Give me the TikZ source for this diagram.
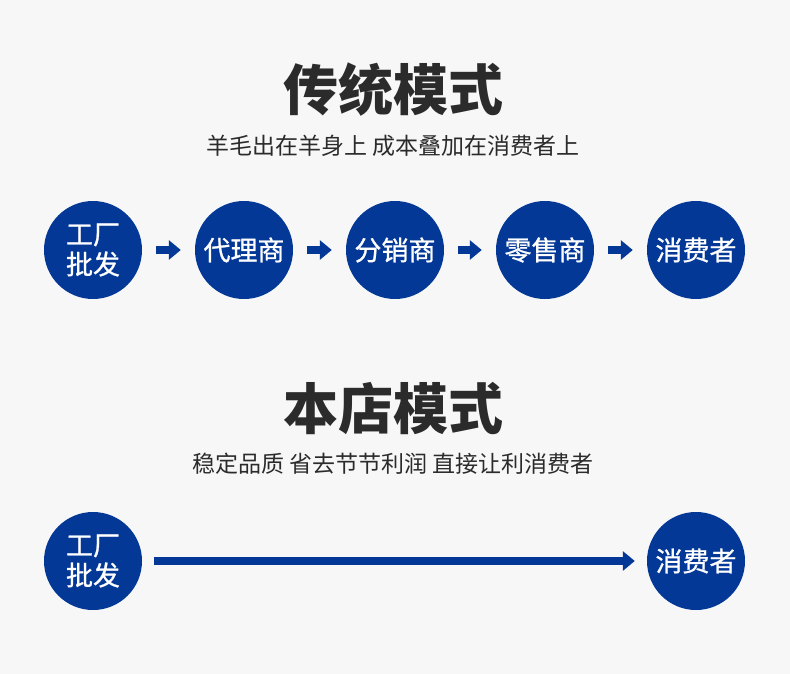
\documentclass[tikz,border=0pt]{standalone}
\usepackage{fontspec}
\setmainfont{Noto Sans CJK SC}
\newfontfamily\ballfont[FakeBold=0.9]{Noto Sans CJK SC}
\usepackage{tikz}
\usetikzlibrary{arrows.meta}
\definecolor{deepblue}{RGB}{3,56,150}
\definecolor{titlegray}{RGB}{43,43,43}
\definecolor{bggray}{RGB}{247,247,247}
\tikzset{
  ball/.style={circle, fill=deepblue, minimum size=98pt, inner sep=0pt,
    text=white, font=\ballfont\fontsize{27}{30}\selectfont, align=center},
  flow/.style={draw=deepblue, line width=8pt,
    -{Triangle[length=12pt,width=19pt]}},
  headline/.style={text=titlegray, font=\fontsize{55}{60}\selectfont\bfseries},
  tagline/.style={text=titlegray, font=\fontsize{23}{26}\selectfont}
}

\begin{document}
\begin{tikzpicture}[x=1pt, y=-1pt]
      \fill[bggray] (0,0) rectangle (790,674);
      \useasboundingbox (0,0) rectangle (790,674);
      \node[headline] (T1) at (393, 90) {传统模式};
      \node[tagline] (S1) at (393, 146) {羊毛出在羊身上 成本叠加在消费者上};
      \node[ball] (A) at (93, 250) {工厂\\批发};
      \node[ball] (B) at (244, 250) {代理商};
      \node[ball] (C) at (395, 250) {分销商};
      \node[ball] (D) at (545, 250) {零售商};
      \node[ball] (E) at (696, 250) {消费者};
      \draw[flow, shorten <=14pt, shorten >=14pt] (A) to (B);
      \draw[flow, shorten <=14pt, shorten >=14pt] (B) to (C);
      \draw[flow, shorten <=14pt, shorten >=14pt] (C) to (D);
      \draw[flow, shorten <=14pt, shorten >=14pt] (D) to (E);
      \node[headline] (T2) at (393, 408) {本店模式};
      \node[tagline] (S2) at (393, 464) {稳定品质 省去节节利润 直接让利消费者};
      \node[ball] (F) at (93, 561) {工厂\\批发};
      \node[ball] (G) at (696, 561) {消费者};
      \draw[flow, shorten <=12pt, shorten >=12pt] (F) to (G);
    \end{tikzpicture}
\end{document}
